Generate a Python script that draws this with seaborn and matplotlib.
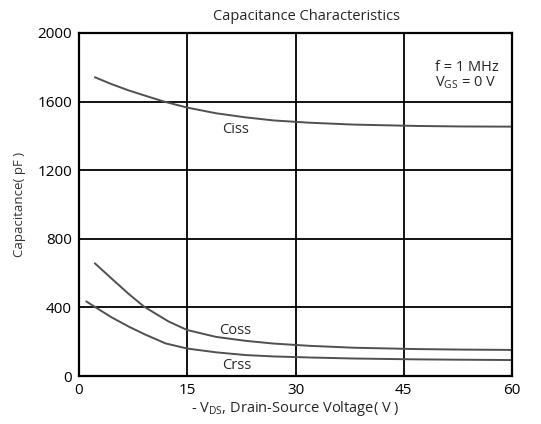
import matplotlib
matplotlib.use("Agg")
import matplotlib.pyplot as plt
import seaborn as sns

# values
ciss_v = [2.2, 4.5, 6.9, 9.5, 11.8, 15, 19, 23.1, 27, 31.9, 38, 46.8, 53, 60]
ciss_c = [1742, 1702, 1665, 1630, 1600, 1565, 1532, 1508, 1490, 1477, 1466, 1458, 1455, 1454]

coss_v = [2.2, 4.6, 6.9, 9.0, 12.4, 15, 19, 23.1, 27, 31.9, 38, 46.8, 53, 60]
coss_c = [657, 565, 478, 405, 318, 268, 228, 205, 189, 176, 165, 157, 154, 152]

crss_v = [1.0, 2.5, 4.6, 6.9, 9.1, 12, 15, 19, 23.1, 27, 31.9, 38, 46.8, 53, 60]
crss_c = [435, 395, 340, 288, 243, 190, 160, 138, 122, 114, 108, 102, 97, 95, 93]

x_ticks = [0, 15, 30, 45, 60]
y_ticks = [0, 400, 800, 1200, 1600, 2000]

sns.set_style("white")
plt.rcParams['font.family'] = ['Open Sans', 'DejaVu Sans']

fig, ax = plt.subplots(figsize=(5.41, 4.24), dpi=100)
fig.subplots_adjust(left=79/541, right=512/541, top=1-33/424, bottom=1-376/424)

curve_color = '#505050'
for v, c in [(ciss_v, ciss_c), (coss_v, coss_c), (crss_v, crss_c)]:
    sns.lineplot(x=v, y=c, ax=ax, color=curve_color, lw=1.4)

ax.set_xlim(0, 60)
ax.set_ylim(0, 2000)
ax.set_xticks(x_ticks)
ax.set_yticks(y_ticks)
ax.tick_params(length=0, labelsize=11, colors='black', pad=5)
ax.grid(True, color='black', lw=1.3)
ax.set_axisbelow(True)
for s in ax.spines.values():
    s.set_color('black')
    s.set_linewidth(1.6)

fig.text(306/541, 1-16/424, 'Capacitance Characteristics', fontsize=10.5,
         ha='center', va='center')
ax.set_xlabel(r'- V$_{\mathregular{DS}}$, Drain-Source Voltage( V )', fontsize=10.5, labelpad=1)
ax.set_ylabel('Capacitance( pF )', fontsize=9.5, labelpad=8, color='#333333')

ax.text(21.7, 1440, 'Ciss', fontsize=10.5, ha='center', va='center')
ax.text(21.7, 264, 'Coss', fontsize=10.5, ha='center', va='center')
ax.text(21.9, 64, 'Crss', fontsize=10.5, ha='center', va='center')
ax.text(49.3, 1796, 'f = 1 MHz', fontsize=10.5, va='center')
ax.text(49.3, 1708, r'V$_{\mathregular{GS}}$ = 0 V', fontsize=10.5, va='center')

plt.savefig('out.png', dpi=100)
